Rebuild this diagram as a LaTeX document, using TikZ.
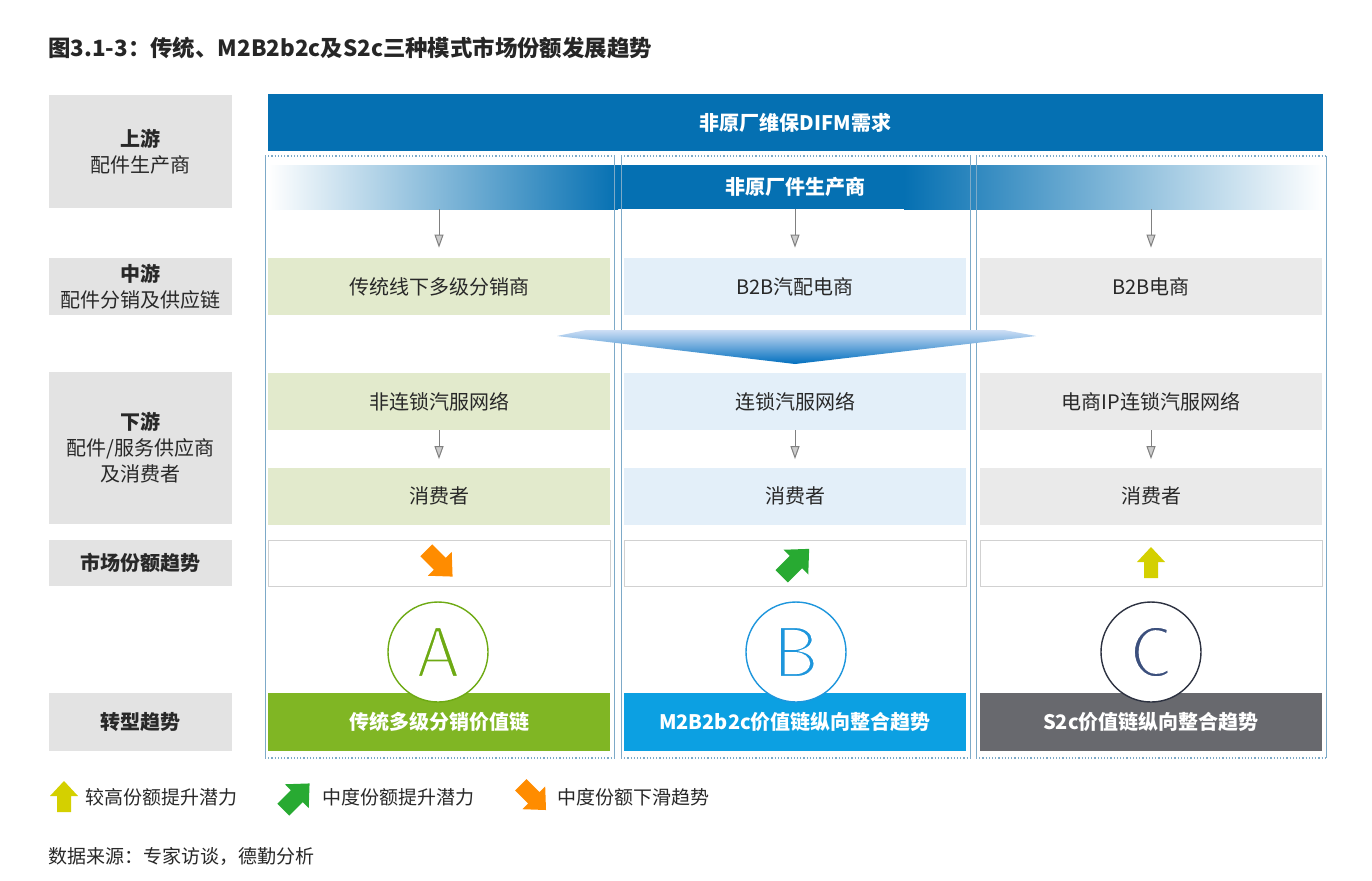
\documentclass[tikz,border=0pt]{standalone}
\usepackage{fontspec}
\setmainfont{Noto Sans CJK SC}
\usetikzlibrary{arrows.meta}
\definecolor{topblue}{RGB}{5,112,178}
\definecolor{lgreen}{RGB}{226,234,204}
\definecolor{lblue}{RGB}{227,239,249}
\definecolor{lgray}{RGB}{234,234,234}
\definecolor{labgray}{RGB}{227,227,227}
\definecolor{bargreen}{RGB}{128,182,36}
\definecolor{barblue}{RGB}{12,160,226}
\definecolor{bargray}{RGB}{104,105,110}
\definecolor{arrorange}{RGB}{255,140,0}
\definecolor{arrgreen}{RGB}{40,170,50}
\definecolor{arryellow}{RGB}{212,208,0}
\definecolor{circA}{RGB}{110,170,20}
\definecolor{circB}{RGB}{30,150,220}
\definecolor{circC}{RGB}{45,50,65}
\definecolor{letC}{RGB}{60,80,125}
\definecolor{outline}{RGB}{125,170,200}
\definecolor{textdark}{RGB}{40,40,40}
\newcommand{\fs}[1]{\fontsize{#1}{13}\selectfont}
\newcommand{\thinletter}[1]{\special{pdf:literal direct 2 Tr 1 1 1 RG 1.1 w}#1\special{pdf:literal direct 0 Tr}}
\begin{document}
\begin{tikzpicture}[x=0.5pt,y=-0.5pt,
  lab/.style={fill=labgray,minimum width=91.5pt,inner sep=0pt,align=center,text=textdark,font=\fs{10}},
  colbox/.style={minimum width=171pt,minimum height=28.5pt,inner sep=0pt,text=textdark,font=\fs{10}},
  trendbox/.style={draw=black!18,line width=0.5pt,fill=white,minimum width=171pt,minimum height=23pt,inner sep=0pt},
  barbox/.style={minimum width=171pt,minimum height=29pt,inner sep=0pt,text=white,font=\fs{10}\bfseries},
  circ/.style={circle,draw,fill=white,line width=0.7pt,minimum size=50pt,inner sep=0pt,font=\sffamily\fontsize{36}{36}\selectfont},
  colside/.style={draw=outline,line width=0.5pt},
  coledge/.style={draw=outline,line width=0.6pt,densely dotted},
  garrow/.style={draw=black!50,line width=0.5pt,-{Triangle[length=6.5pt,width=4.5pt,fill=black!20]}},
  fatarrow/.pic={\fill (0,-16) -- (14,-1) -- (7,-1) -- (7,15) -- (-7,15) -- (-7,-1) -- (-14,-1) -- cycle;},
  legtext/.style={anchor=west,inner sep=0pt,text=textdark,font=\fs{9.5}}
]
\useasboundingbox[fill=white] (0,0) rectangle (1372,880);

% title
\node[anchor=west,inner sep=0pt,text=black!85,font=\fs{11.2}\bfseries] (title) at (48,48) {图3.1-3：传统、M2B2b2c及S2c三种模式市场份额发展趋势};

% left labels
\node[lab,minimum height=56.5pt] (lup) at (140.5,151.5) {{\bfseries 上游}\\配件生产商};
\node[lab,minimum height=28.5pt] (lmid) at (140.5,286.5) {{\bfseries 中游}\\配件分销及供应链};
\node[lab,minimum height=76pt] (ldown) at (140.5,448) {{\bfseries 下游}\\配件/服务供应商\\及消费者};
\node[lab,minimum height=23pt,font=\fs{10}\bfseries] (ltrend) at (140.5,563) {市场份额趋势};
\node[lab,minimum height=29pt,font=\fs{10}\bfseries] (ltrans) at (140.5,722) {转型趋势};

% top bar
\node[fill=topblue,minimum width=527.5pt,minimum height=28.5pt,inner sep=0pt,text=white,font=\fs{10}\bfseries] (difm) at (795.5,122.5) {非原厂维保DIFM需求};

% gradient bar
\shade[left color=white,right color=topblue] (268,165) rectangle (618,209);
\fill[topblue] (617,165) rectangle (905,209);
\shade[left color=topblue,right color=white] (904,165) rectangle (1323,209);
\node[inner sep=0pt,text=white,font=\fs{10}\bfseries,minimum width=527.5pt,minimum height=22pt] (maker) at (795.5,187) {非原厂件生产商};

% column frames
\foreach \xa/\xb in {265/614,621/970,976/1326}{
  \draw[colside] (\xa,156) -- (\xa,758);
  \draw[colside] (\xb,156) -- (\xb,758);
  \draw[coledge] (\xa,156) -- (\xb,156);
  \draw[coledge] (\xa,758) -- (\xb,758);
}

% midstream
\node[colbox,fill=lgreen] (ma) at (439,286.5) {传统线下多级分销商};
\node[colbox,fill=lblue] (mb) at (795,286.5) {B2B汽配电商};
\node[colbox,fill=lgray] (mc) at (1151,286.5) {B2B电商};

% chevron
\shade[top color={rgb,255:red,205;green,222;blue,245},bottom color={rgb,255:red,0;green,110;blue,190}]
  (557,336) -- (586,330) -- (1004,330) -- (1036,336) -- (795,364) -- cycle;

% downstream
\node[colbox,fill=lgreen] (da) at (439,401.5) {非连锁汽服网络};
\node[colbox,fill=lblue] (db) at (795,401.5) {连锁汽服网络};
\node[colbox,fill=lgray] (dc) at (1151,401.5) {电商IP连锁汽服网络};
\node[colbox,fill=lgreen] (ca) at (439,496) {消费者};
\node[colbox,fill=lblue] (cb) at (795,496) {消费者};
\node[colbox,fill=lgray] (cc) at (1151,496) {消费者};

% small arrows
\draw[garrow,shorten >=5pt] (maker.south -| ma.north) -- (ma.north);
\draw[garrow,shorten >=5pt] (maker.south -| mb.north) -- (mb.north);
\draw[garrow,shorten >=5pt] (maker.south -| mc.north) -- (mc.north);
\draw[garrow,shorten >=4pt] (da.south) -- (ca.north);
\draw[garrow,shorten >=4pt] (db.south) -- (cb.north);
\draw[garrow,shorten >=4pt] (dc.south) -- (cc.north);

% trend boxes
\node[trendbox] (ta) at (439,563) {};
\node[trendbox] (tb) at (795,563) {};
\node[trendbox] (tc) at (1151,563) {};
\pic[fill=arrorange,rotate=-135,scale=1.2] at (ta.center) {fatarrow};
\pic[fill=arrgreen,rotate=-45,scale=1.25] at (tb.center) {fatarrow};
\pic[fill=arryellow] at (tc.center) {fatarrow};

% bottom bars
\node[barbox,fill=bargreen] (ba) at (439,722) {\raisebox{-1.5pt}{传统多级分销价值链}};
\node[barbox,fill=barblue] (bb) at (795,722) {\raisebox{-1.5pt}{M2B2b2c价值链纵向整合趋势}};
\node[barbox,fill=bargray] (bc) at (1151,722) {\raisebox{-1.5pt}{S2c价值链纵向整合趋势}};

% circles
\node[circ,draw=circA,text=circA] (cA) at (438,652) {\thinletter{A}};
\node[circ,draw=circB,text=circB] (cB) at (796,652) {\thinletter{B}};
\node[circ,draw=circC,text=letC] (cC) at (1151,652) {\thinletter{C}};

% legend
\pic[fill=arryellow] at (64,797) {fatarrow};
\node[legtext] (lg1) at (85,797) {较高份额提升潜力};
\pic[fill=arrgreen,rotate=-45,scale=1.2] at (296,797) {fatarrow};
\node[legtext] (lg2) at (322,797) {中度份额提升潜力};
\pic[fill=arrorange,rotate=-135,scale=1.15] at (533,797) {fatarrow};
\node[legtext] (lg3) at (557,797) {中度份额下滑趋势};

% source
\node[legtext] (src) at (48,856) {数据来源：专家访谈，德勤分析};
\end{tikzpicture}
\end{document}
